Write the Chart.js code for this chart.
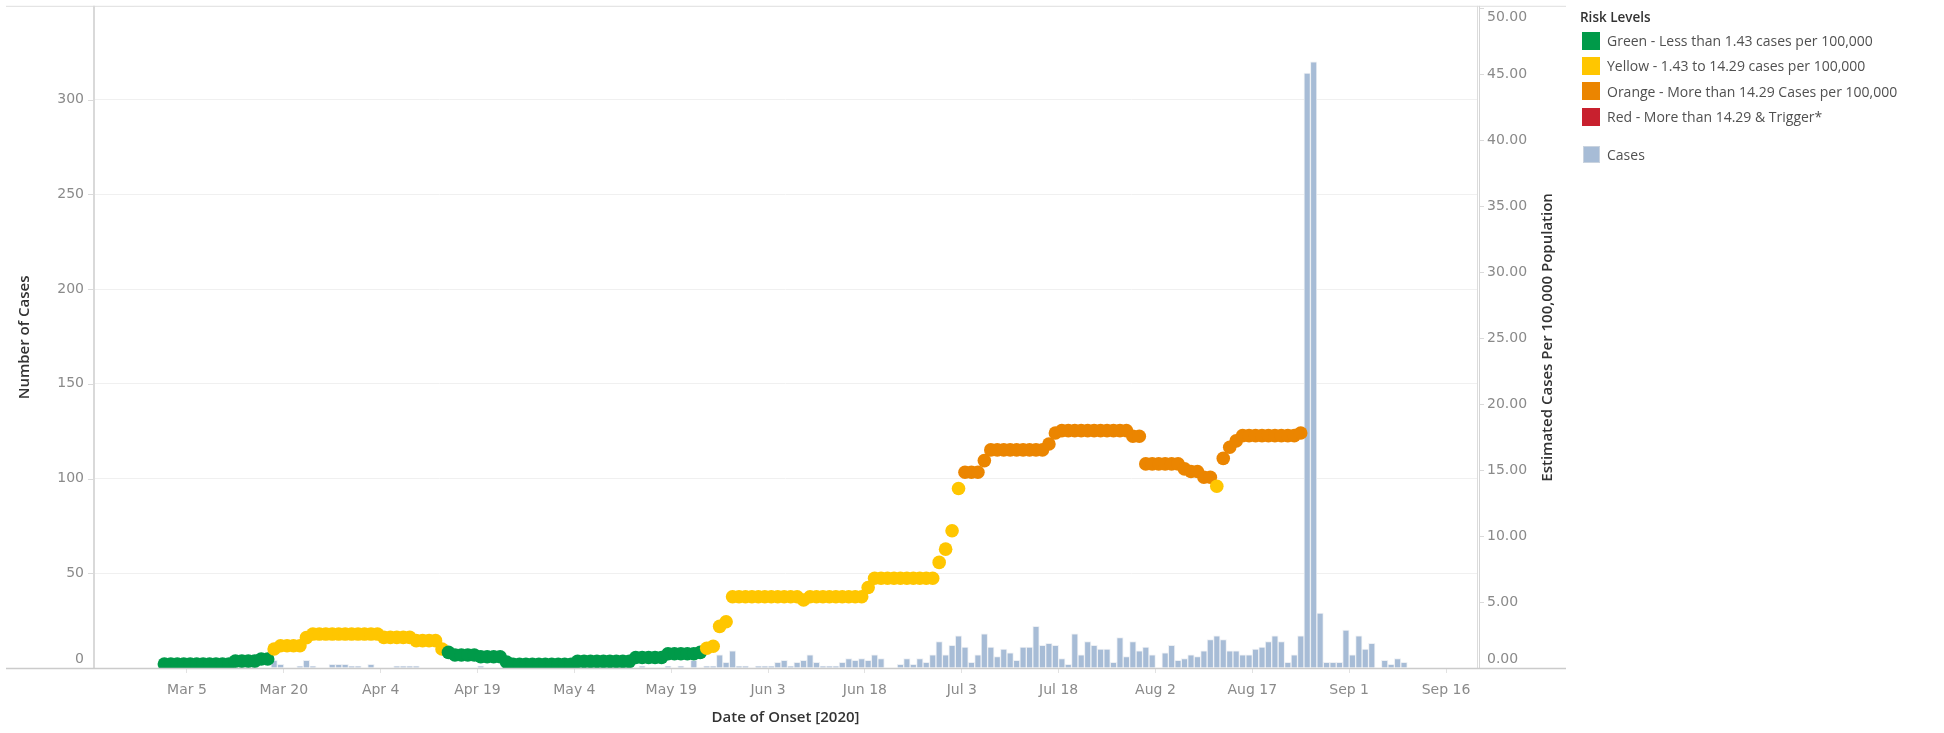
<!DOCTYPE html>
<html>
<head>
<meta charset="utf-8">
<script src="https://cdn.jsdelivr.net/npm/chart.js@4.4.1/dist/chart.umd.min.js"></script>
<style>
  html, body { margin: 0; padding: 0; background: #ffffff; }
  #wrap { position: relative; width: 1944px; height: 733px; overflow: hidden; }
  #chart { position: absolute; left: 0; top: 0; }
  #legend { position: absolute; left: 1580px; top: 7px; font-family: "Open Sans", "Noto Sans", sans-serif; }
  #legend .lg-title { font-size: 13.5px; font-weight: 600; color: #333333; height: 20px; line-height: 20px; margin-bottom: 1px; }
  #legend .lg-row { display: flex; align-items: center; height: 25.3px; }
  #legend .lg-row.sep { margin-top: 13px; }
  #legend .sw { width: 18px; height: 18px; margin-left: 2px; margin-right: 7px; box-sizing: border-box; }
  #legend .txt { font-size: 14px; color: #505050; white-space: nowrap; }
</style>
</head>
<body>
<div id="wrap">
  <canvas id="chart" width="1944" height="733"></canvas>
  <div id="legend"></div>
</div>
<script>
// First day of the daily series
const startDate = '2020-03-01';

// Daily case counts by date of onset (Mar 1 .. Sep 20)
const casesMar = [0,0,0,0,0,0,0,0,0,0,0,0,0,0,0,0,0,4,2,0,0,1,4,1,0,0,2,2,2,1,1];
const casesApr = [0,2,0,0,0,1,1,1,1,0,0,0,0,0,0,0,0,0,1,0,0,0,0,0,0,0,0,0,0,0];
const casesMay = [0,0,0,0,0,0,0,0,0,0,0,0,0,1,0,0,0,1,0,1,0,4,0,1,1,7,3,9,1,1,0];
const casesJun = [1,1,1,3,4,1,3,4,7,3,1,1,1,3,5,4,5,4,7,5,0,0,2,5,2,5,3,7,14,7];
const casesJul = [12,17,11,3,7,18,11,6,10,8,4,11,11,22,12,13,12,5,2,18,7,14,12,10,10,3,16,6,14,9,11];
const casesAug = [7,0,8,12,4,5,7,6,9,15,17,15,9,9,7,7,10,11,14,17,14,3,7,17,314,320,29,3,3,3,20];
const casesSep = [7,17,10,13,0,4,2,5,3,0,0,0,0,0,0,0,0,0,0,0];

// Estimated cases per 100,000 population (Mar 1 .. Aug 24)
const rateMar = [0.30,0.30,0.30,0.30,0.30,0.30,0.30,0.30,0.30,0.30,0.30,0.52,0.52,0.52,0.52,0.68,0.68,1.44,1.69,1.69,1.69,1.69,2.30,2.57,2.57,2.57,2.57,2.57,2.57,2.57,2.57];
const rateApr = [2.57,2.57,2.57,2.32,2.32,2.32,2.32,2.32,2.07,2.07,2.07,2.07,1.44,1.18,0.98,0.98,0.98,0.98,0.85,0.85,0.85,0.85,0.45,0.28,0.28,0.28,0.28,0.28,0.28,0.28];
const rateMay = [0.28,0.28,0.28,0.50,0.50,0.50,0.50,0.50,0.50,0.50,0.50,0.50,0.80,0.80,0.80,0.80,0.80,1.08,1.08,1.08,1.08,1.08,1.18,1.50,1.65,3.15,3.50,5.40,5.40,5.40,5.40];
const rateJun = [5.40,5.40,5.40,5.40,5.40,5.40,5.40,5.15,5.40,5.40,5.40,5.40,5.40,5.40,5.40,5.40,5.40,6.10,6.80,6.80,6.80,6.80,6.80,6.80,6.80,6.80,6.80,6.80,8.00,9.00];
const rateJul = [10.40,13.60,14.83,14.83,14.83,15.71,16.52,16.52,16.52,16.52,16.52,16.52,16.52,16.52,16.52,16.97,17.80,17.98,17.98,17.98,17.98,17.98,17.98,17.98,17.98,17.98,17.98,17.98,17.55,17.55,15.46];
const rateAug = [15.46,15.46,15.46,15.46,15.46,15.08,14.88,14.88,14.45,14.45,13.77,15.88,16.72,17.20,17.60,17.60,17.60,17.60,17.60,17.60,17.60,17.60,17.60,17.80];

// Risk levels (upper bound of each band, per 100,000)
const levelNames = [
  'Green - Less than 1.43 cases per 100,000',
  'Yellow - 1.43 to 14.29 cases per 100,000',
  'Orange - More than 14.29 Cases per 100,000',
  'Red - More than 14.29 & Trigger*'
];
const levelColors = ['#009a49', '#ffc600', '#eb8500', '#c8202e'];
const levelLimits = [1.43, 14.29, Infinity];
const casesName = 'Cases';
const casesColor = '#a7bcd6';

// Axis ticks
const xTickDates = ['2020-03-05','2020-03-20','2020-04-04','2020-04-19','2020-05-04','2020-05-19',
                    '2020-06-03','2020-06-18','2020-07-03','2020-07-18','2020-08-02','2020-08-17',
                    '2020-09-01','2020-09-16'];
const xTickLabels = ['Mar 5','Mar 20','Apr 4','Apr 19','May 4','May 19','Jun 3','Jun 18',
                     'Jul 3','Jul 18','Aug 2','Aug 17','Sep 1','Sep 16'];
const caseTicks = [0, 50, 100, 150, 200, 250, 300];
const rateTicks = [0, 5, 10, 15, 20, 25, 30, 35, 40, 45, 50];

// ---- build series ----
const DAY = 86400000;
const t0 = Date.parse(startDate + 'T00:00:00Z');
const dayOf = s => (Date.parse(s + 'T00:00:00Z') - t0) / DAY;

const cases = [].concat(casesMar, casesApr, casesMay, casesJun, casesJul, casesAug, casesSep);
const rates = [].concat(rateMar, rateApr, rateMay, rateJun, rateJul, rateAug);

// each daily value is centred within its day
const casePoints = cases.map((v, i) => ({ x: i + 0.5, y: v }));
const ratePoints = rates.map((v, i) => ({ x: i + 0.5, y: v }));
const levelIndex = v => (v < levelLimits[0] ? 0 : v <= levelLimits[1] ? 1 : 2);
const rateColors = rates.map(v => levelColors[levelIndex(v)]);
const xTickDays = xTickDates.map(dayOf);

// ---- legend ----
const legend = document.getElementById('legend');
legend.innerHTML = '<div class="lg-title">Risk Levels</div>' +
  levelNames.map((n, i) =>
    `<div class="lg-row"><div class="sw" style="background:${levelColors[i]}"></div><div class="txt">${n}</div></div>`).join('') +
  `<div class="lg-row sep"><div class="sw" style="background:${casesColor};border:1px solid #c9d3df;width:17px;height:17px;margin-left:3px"></div><div class="txt">${casesName}</div></div>`;

// ---- chart decorations: frame lines, axis labels, right axis title ----
const TICK_FONT = '14px "DejaVu Sans", sans-serif';
const TICK_COLOR = '#8a8a8a';

const framePlugin = {
  id: 'frame',
  beforeDatasetsDraw(chart) {
    const { ctx, chartArea: a, scales } = chart;
    const hl = (x1, x2, y, c, w = 1) => { ctx.strokeStyle = c; ctx.lineWidth = w; ctx.beginPath(); ctx.moveTo(x1, y); ctx.lineTo(x2, y); ctx.stroke(); };
    const vl = (x, y1, y2, c, w = 1) => { ctx.strokeStyle = c; ctx.lineWidth = w; ctx.beginPath(); ctx.moveTo(x, y1); ctx.lineTo(x, y2); ctx.stroke(); };
    ctx.save();
    hl(6, 1566, a.top - 0.5, '#dedede');
    vl(a.left, a.top - 1, a.bottom, '#d9d9d9', 2);
    vl(a.right + 0.5, a.top - 1, a.bottom, '#dcdcdc');
    vl(a.right + 2.5, a.top - 1, a.bottom, '#d6d6d6');
    caseTicks.forEach(v => { const y = Math.round(scales.y.getPixelForValue(v)) + 0.5; hl(a.left - 6, a.left - 1, y, '#dadada'); });
    rateTicks.forEach(v => { const y = Math.round(scales.y1.getPixelForValue(v)) + 0.5; hl(a.right + 3, a.right + 7, y, '#dadada'); });
    ctx.restore();
  },
  afterDatasetsDraw(chart) {
    const { ctx, chartArea: a } = chart;
    ctx.save();
    ctx.strokeStyle = '#cbcbcb';
    ctx.lineWidth = 1.5;
    ctx.beginPath(); ctx.moveTo(6, a.bottom + 0.5); ctx.lineTo(1566, a.bottom + 0.5); ctx.stroke();
    ctx.restore();
  },
  afterDraw(chart) {
    const { ctx, chartArea: a, scales } = chart;
    ctx.save();
    ctx.font = TICK_FONT;
    ctx.fillStyle = TICK_COLOR;
    ctx.textBaseline = 'middle';
    const clampY = y => Math.min(Math.max(y, a.top + 11), a.bottom - 9);
    ctx.textAlign = 'right';
    caseTicks.forEach(v => ctx.fillText(String(v), a.left - 10, clampY(scales.y.getPixelForValue(v))));
    ctx.textAlign = 'left';
    rateTicks.forEach(v => ctx.fillText(v.toFixed(2), a.right + 10, clampY(scales.y1.getPixelForValue(v))));
    // right axis title, reading bottom to top
    ctx.translate(1548, (a.top + a.bottom) / 2);
    ctx.rotate(-Math.PI / 2);
    ctx.textAlign = 'center';
    ctx.font = '600 15px "Open Sans", sans-serif';
    ctx.fillStyle = '#333333';
    ctx.fillText('Estimated Cases Per 100,000 Population', 0, 0);
    ctx.restore();
  }
};

new Chart(document.getElementById('chart'), {
  type: 'bar',
  data: {
    datasets: [
      {
        type: 'line',
        label: 'Risk Level',
        data: ratePoints,
        yAxisID: 'y1',
        showLine: false,
        pointRadius: 6.8,
        pointHoverRadius: 6.8,
        pointBorderWidth: 0,
        pointBackgroundColor: rateColors,
        order: 0
      },
      {
        type: 'bar',
        label: casesName,
        data: casePoints,
        yAxisID: 'y',
        backgroundColor: casesColor,
        borderColor: 'rgba(235,238,243,0.9)',
        borderWidth: 1,
        borderSkipped: 'start',
        categoryPercentage: 1.0,
        barPercentage: 1.0,
        order: 1
      }
    ]
  },
  options: {
    responsive: false,
    animation: false,
    devicePixelRatio: 1,
    layout: { padding: { top: 5, right: 374, left: 0, bottom: 0 } },
    plugins: { legend: { display: false }, tooltip: { enabled: false } },
    scales: {
      x: {
        type: 'linear',
        position: 'bottom',
        offset: false,
        min: -10.4,
        max: 203.8,
        afterBuildTicks: s => { s.ticks = xTickDays.map(v => ({ value: v })); },
        afterFit: s => { s.height = 65; },
        ticks: {
          autoSkip: false,
          maxRotation: 0,
          padding: 9,
          font: { family: '"DejaVu Sans", sans-serif', size: 14 },
          color: TICK_COLOR,
          callback: (v, i) => xTickLabels[i]
        },
        grid: { offset: false, drawOnChartArea: false, drawTicks: true, tickLength: 5, color: '#e2e2e2' },
        border: { display: false },
        title: {
          display: true,
          text: 'Date of Onset [2020]',
          color: '#333333',
          font: { family: '"Open Sans", sans-serif', size: 15, weight: '600' },
          padding: { top: 0, bottom: 6 }
        }
      },
      y: {
        type: 'linear',
        position: 'left',
        min: 0,
        max: 349,
        afterBuildTicks: s => { s.ticks = caseTicks.map(v => ({ value: v })); },
        afterFit: s => { s.width = 94; },
        ticks: { display: false },
        grid: { color: '#f0f0f0', drawTicks: false },
        border: { display: false },
        title: {
          display: true,
          text: 'Number of Cases',
          color: '#333333',
          font: { family: '"Open Sans", sans-serif', size: 15, weight: '600' },
          padding: { top: 16, bottom: 0 }
        }
      },
      y1: {
        type: 'linear',
        position: 'right',
        min: 0,
        max: 50.08,
        afterBuildTicks: s => { s.ticks = rateTicks.map(v => ({ value: v })); },
        afterFit: s => { s.width = 93; },
        ticks: { display: false },
        grid: { drawOnChartArea: false, drawTicks: false },
        border: { display: false }
      }
    }
  },
  plugins: [framePlugin]
});
</script>
</body>
</html>
